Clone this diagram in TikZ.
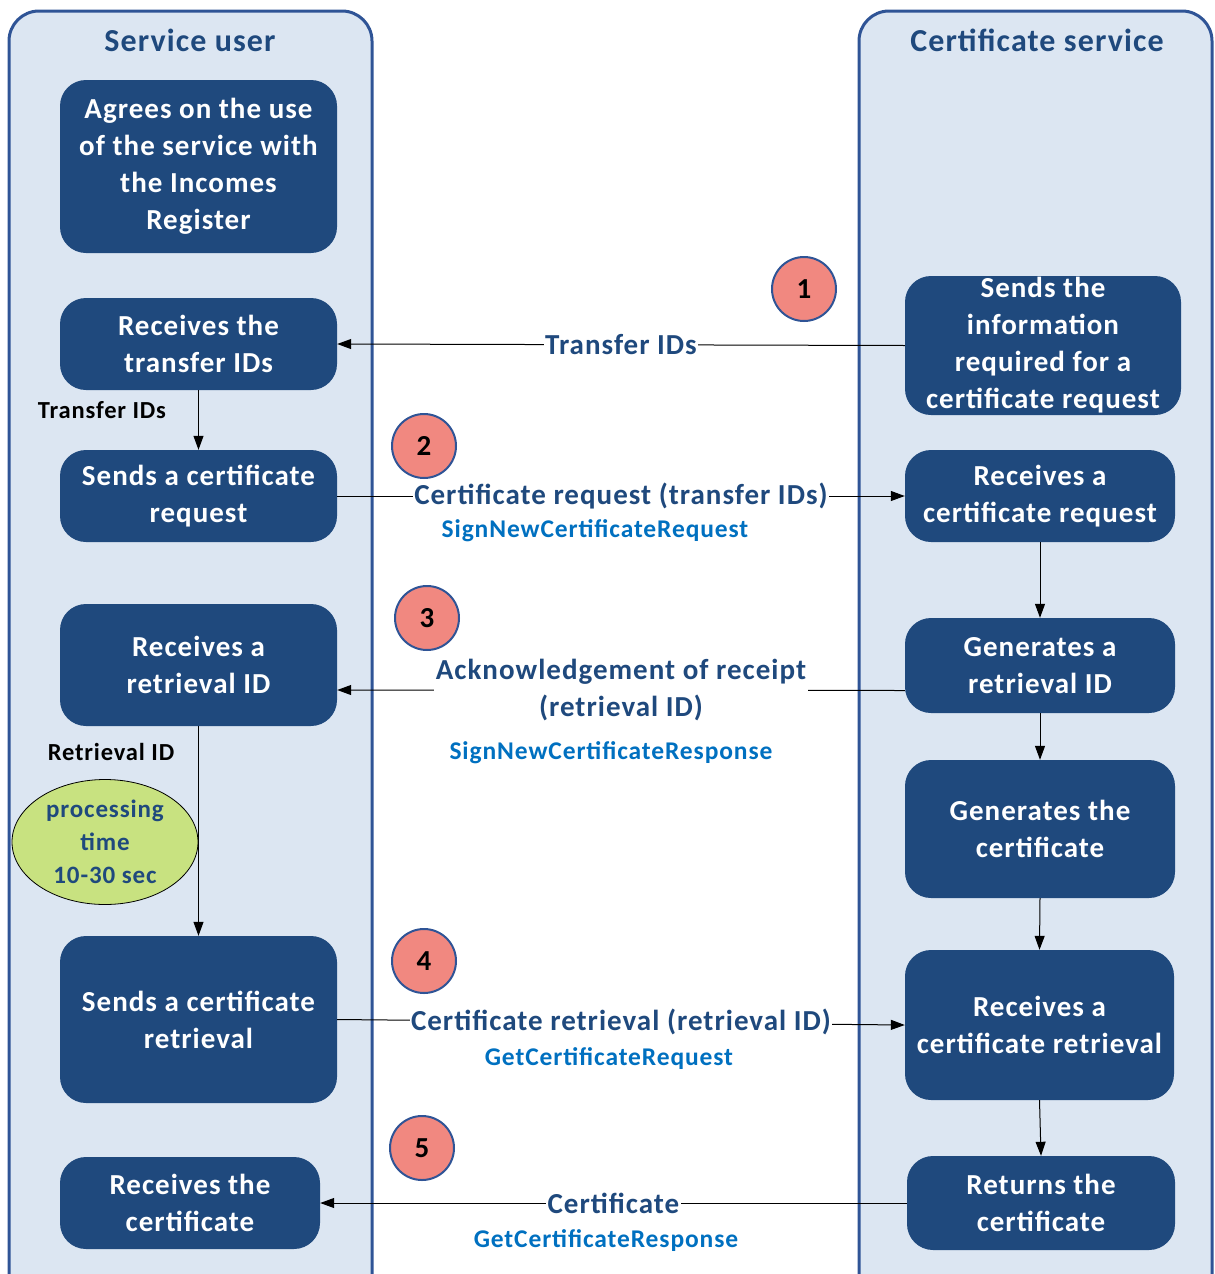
\documentclass[tikz,border=0pt]{standalone}
\usepackage{fontspec}
\setmainfont{Carlito}[LetterSpace=3.5]
\usetikzlibrary{arrows.meta,shapes.geometric}
\definecolor{boxblue}{RGB}{31,73,125}
\definecolor{lanefill}{RGB}{220,230,242}
\definecolor{laneborder}{RGB}{47,84,150}
\definecolor{labblue}{RGB}{31,73,125}
\definecolor{apiblue}{RGB}{0,112,192}
\definecolor{circfill}{RGB}{241,136,128}
\definecolor{ellfill}{RGB}{200,226,128}
\tikzset{
  lane/.style={draw=laneborder, line width=3pt, fill=lanefill, rounded corners=30pt},
  lanetitle/.style={text=labblue, font=\fontsize{32}{36}\selectfont\bfseries},
  box/.style={fill=boxblue, rounded corners=26pt, text=white, align=center,
    font=\fontsize{29}{37}\selectfont\bfseries, inner sep=0pt},
  arr/.style={-{Triangle[length=14pt,width=10pt]}, line width=1pt, black},
  msg/.style={fill=white, text=labblue, align=center, inner sep=1.5pt,
    font=\fontsize{29}{37}\selectfont\bfseries},
  api/.style={text=apiblue, font=\fontsize{25.5}{28}\selectfont\bfseries, inner sep=0pt},
  side/.style={text=black, font=\fontsize{24.5}{26}\selectfont\bfseries, inner sep=0pt},
  num/.style={circle, draw=laneborder, line width=2pt, fill=circfill, minimum size=64pt,
    inner sep=0pt, font=\fontsize{29}{30}\selectfont\bfseries},
}
\begin{document}
\begin{tikzpicture}[x=1pt,y=-1pt]
\useasboundingbox (0,0) rectangle (1215,1274);
\clip (0,0) rectangle (1215,1274);
% lanes
\draw[lane] (9,11) rectangle (372,1320);
\draw[lane] (859,11) rectangle (1212,1320);
\node[lanetitle] (t1) at (190,40) {Service user};
\node[lanetitle] (t2) at (1037,40) {Certificate service};
% left boxes
\node[box, minimum width=277pt, minimum height=173pt] (A) at (198.5,166.5)
  {Agrees on the use\\of the service with\\the Incomes\\Register};
\node[box, minimum width=277pt, minimum height=92pt] (B) at (198.5,344)
  {Receives the\\transfer IDs};
\node[box, minimum width=277pt, minimum height=92pt] (C) at (198.5,496)
  {Sends a certificate\\request};
\node[box, minimum width=277pt, minimum height=122pt] (D) at (198.5,665)
  {Receives a\\retrieval ID};
\node[box, minimum width=277pt, minimum height=167pt] (E) at (198.5,1019.5)
  {Sends a certificate\\retrieval};
\node[box, minimum width=260pt, minimum height=92pt] (F) at (190,1203)
  {Receives the\\certificate};
% right boxes
\node[box, minimum width=276pt, minimum height=139pt] (R1) at (1043,345.5)
  {Sends the\\information\\required for a\\certificate request};
\node[box, minimum width=270pt, minimum height=92pt] (R2) at (1040,496)
  {Receives a\\certificate request};
\node[box, minimum width=270pt, minimum height=95pt] (R3) at (1040,665.5)
  {Generates a\\retrieval ID};
\node[box, minimum width=270pt, minimum height=138pt] (R4) at (1040,829)
  {Generates the\\certificate};
\node[box, minimum width=269pt, minimum height=150pt] (R5) at (1039.5,1025)
  {Receives a\\certificate retrieval};
\node[box, minimum width=268pt, minimum height=94pt] (R6) at (1041,1203)
  {Returns the\\certificate};
% ellipse
\node[ellipse, draw=black, line width=0.8pt, fill=ellfill, minimum width=186pt,
  minimum height=125pt, inner sep=0pt, align=center, text=labblue,
  font=\fontsize{25}{33}\selectfont\bfseries] (P) at (105,842)
  {processing\\time\\10-30 sec};
% vertical arrows
\draw[arr] (B.south) -- (C.north);
\draw[arr] (D.south) -- (E.north);
\draw[arr] (R2.south) -- (R3.north);
\draw[arr] (R3.south) -- (R4.north);
\draw[arr] (R4.south) -- (R5.north);
\draw[arr] (R5.south) -- (R6.north);
\node[side] (s1) at (102,410) {Transfer IDs};
\node[side] (s2) at (111,752) {Retrieval ID};
% horizontal messages
\draw[arr] (R1.west) -- node[msg] (m1) {Transfer IDs} (B.east);
\draw[arr] (C.east) -- node[msg] (m2) {Certificate request (transfer IDs)} (R2.west);
\draw[arr] ([yshift=-25pt]R3.west) -- node[msg] (m3) {Acknowledgement of receipt\\(retrieval ID)} ([yshift=-25pt]D.east);
\draw[arr] (E.east) -- node[msg] (m4) {Certificate retrieval (retrieval ID)} (R5.west);
\draw[arr] (R6.west) -- node[msg] (m5) {Certificate} (F.east);
% api labels
\node[api] (a2) at (595,531) {SignNewCertificateRequest};
\node[api] (a3) at (611,753) {SignNewCertificateResponse};
\node[api] (a4) at (609,1059) {GetCertificateRequest};
\node[api] (a5) at (606,1241) {GetCertificateResponse};
% numbers
\node[num] (n1) at (804,289) {1};
\node[num] (n2) at (424,446) {2};
\node[num] (n3) at (427,618) {3};
\node[num] (n4) at (424,961) {4};
\node[num] (n5) at (422,1148) {5};
\end{tikzpicture}
\end{document}
